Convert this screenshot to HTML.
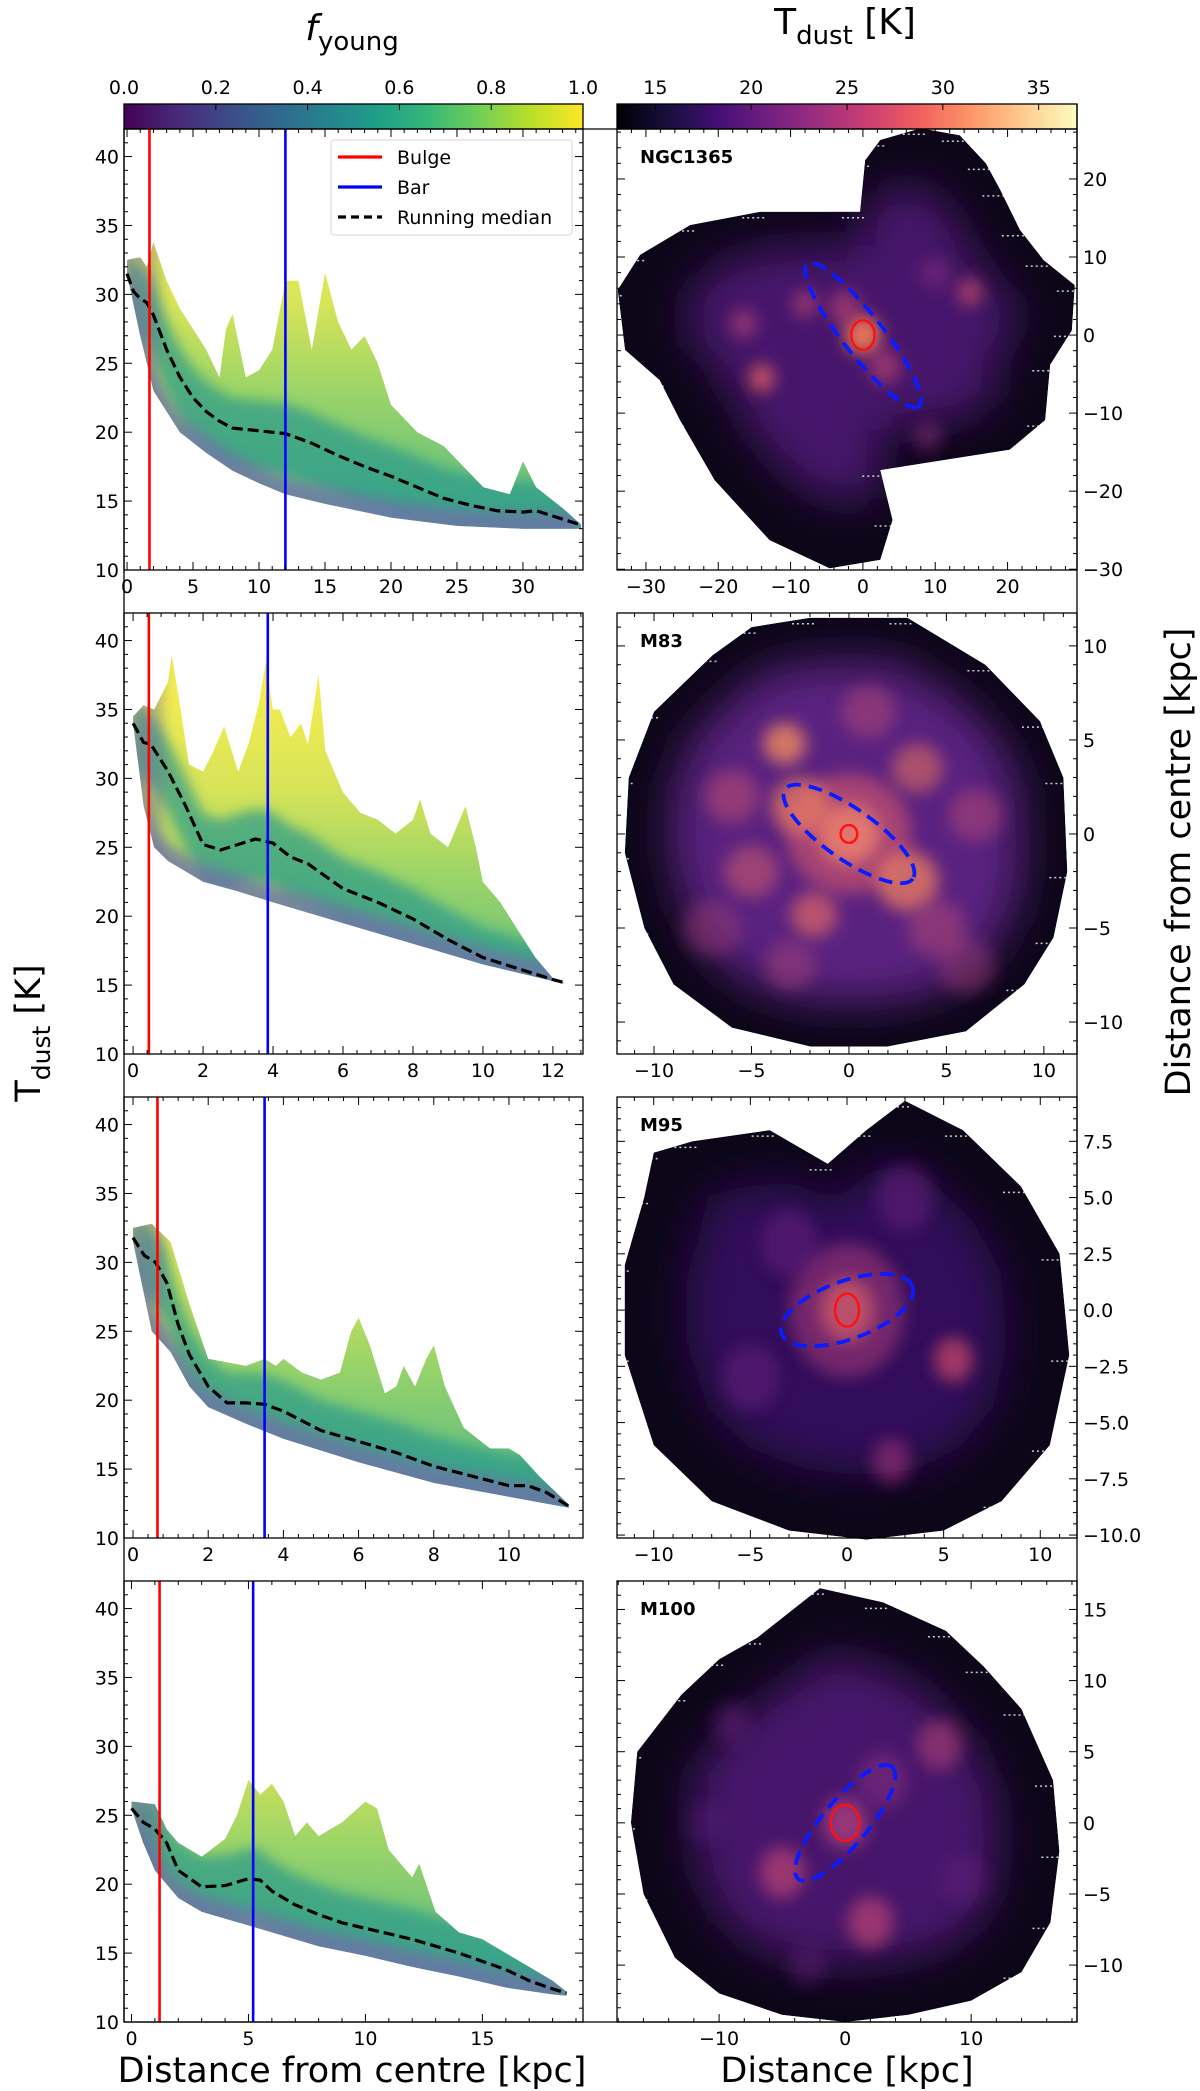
<!DOCTYPE html>
<html><head><meta charset="utf-8">
<style>
html,body{margin:0;padding:0;background:#fff;}
svg{display:block;font-family:"DejaVu Sans","Liberation Sans",sans-serif;}
</style></head>
<body>
<svg id="fig" width="1200" height="2091" viewBox="0 0 1200 2091" xmlns="http://www.w3.org/2000/svg">
<defs>
<linearGradient id="viridis" x1="0" x2="1" y1="0" y2="0">
<stop offset="0" stop-color="#440154"/><stop offset="0.11" stop-color="#482878"/><stop offset="0.22" stop-color="#3e4989"/><stop offset="0.33" stop-color="#31688e"/><stop offset="0.44" stop-color="#26828e"/><stop offset="0.55" stop-color="#1f9e89"/><stop offset="0.66" stop-color="#35b779"/><stop offset="0.77" stop-color="#6ece58"/><stop offset="0.88" stop-color="#b5de2b"/><stop offset="1" stop-color="#fde725"/>
</linearGradient>
<linearGradient id="magma" x1="0" x2="1" y1="0" y2="0">
<stop offset="0" stop-color="#000004"/><stop offset="0.11" stop-color="#180f3d"/><stop offset="0.22" stop-color="#440f76"/><stop offset="0.33" stop-color="#721f81"/><stop offset="0.44" stop-color="#9e2f7f"/><stop offset="0.55" stop-color="#cd4071"/><stop offset="0.66" stop-color="#f1605d"/><stop offset="0.77" stop-color="#fd9668"/><stop offset="0.88" stop-color="#feca8d"/><stop offset="1" stop-color="#fcfdbf"/>
</linearGradient>
<filter id="blur6" x="-30%" y="-30%" width="160%" height="160%"><feGaussianBlur stdDeviation="6"/></filter>
<filter id="blur9" x="-50%" y="-50%" width="200%" height="200%"><feGaussianBlur stdDeviation="8"/></filter>
<filter id="blur25" x="-50%" y="-50%" width="200%" height="200%"><feGaussianBlur stdDeviation="22"/></filter>
</defs>
<g id="root"></g>
</svg>
<script>
// ---------- Left-panel data (distance kpc, Tdust K) ----------
const ngcUpX=[0,1,1.5,2,3,4,5,6,7,7.5,8,9,10,11,12,13,14,15,16,17,18,19,20,22,24,25,27,29,30,31,33,34.4];
const ngcUpT=[32.5,32.7,32,33.8,31,29,27.5,26,24,27.5,28.6,24,24.5,26,31,31,26,31.6,28,26,27,25,22,20,19,18,16,15.5,17.9,16,14.5,13.3];
const ngcLoX=[0,1,2,4,6,8,10,12,15,18,20,25,30,34.4];
const ngcLoT=[31.5,27,23,20,18.5,17.2,16.3,15.5,14.8,14.2,13.8,13.2,13,13];
const ngcMedX=[0,0.5,1,1.5,2,3,4,5,6,7,8,9,10,11,12,14,16,18,20,22,24,26,28,30,31,32,34.3];
const ngcMedT=[31.5,30.2,29.7,29.4,28.5,26,24,22.5,21.5,20.8,20.3,20.2,20.1,20,19.9,19.2,18.3,17.5,16.8,16,15.2,14.7,14.3,14.2,14.3,14,13.3];
const ngcLines=[1.7,12];

const m83UpX=[0,0.3,0.6,1,1.1,1.3,1.6,2,2.3,2.6,3,3.3,3.6,3.8,4,4.2,4.5,4.8,5,5.3,5.5,6,6.5,7,7.5,8,8.2,8.5,9,9.5,9.8,10,10.5,11,11.5,12,12.3];
const m83UpT=[34.5,35.3,35,37,39,36,31,30.5,32,33.8,30.5,32.5,35.5,38.5,35,35,33,34,32.5,37.6,32,29,27.5,27,26,27,28.5,26,25,28,25,22.5,21,19,17,15.5,15.2];
const m83LoX=[0,0.3,0.6,1,2,3,4,6,8,10,12,12.3];
const m83LoT=[34,28,25,24,22.5,21.8,21,19.5,18,16.5,15.3,15.1];
const m83MedX=[0,0.3,0.5,1,1.5,2,2.5,3,3.5,4,4.5,5,6,7,8,9,10,11,12,12.3];
const m83MedT=[34,32.6,32.5,30.5,28,25.2,24.8,25.2,25.6,25.3,24.3,23.8,22,21,19.8,18.3,17,16.2,15.4,15.2];
const m83Lines=[0.45,3.85];

const m95UpX=[0,0.5,0.8,1,1.5,2,3,3.5,3.8,4,4.5,5,5.5,5.8,6,6.3,6.7,7,7.2,7.5,7.8,8,8.3,8.8,9.5,10,10.3,10.8,11.6];
const m95UpT=[32.5,32.8,32,31.5,27,23,22.5,23,22.5,23,22,21.5,22,25,26,24,20.5,21,22.5,21,23,24,21,18,16.5,16.5,16,14.5,12.4];
const m95LoX=[0,0.5,1,1.5,2,3,4,6,8,10,11.6];
const m95LoT=[31.5,25,23.5,21,19.5,18.3,17.2,15.5,14,13,12.2];
const m95MedX=[0,0.3,0.6,0.9,1.2,1.5,2,2.5,3,3.5,4,5,6,7,8,9,10,10.5,11,11.6];
const m95MedT=[31.8,30.5,30,28.5,25.5,23.3,21,19.8,19.8,19.7,19.2,17.8,17,16.2,15.2,14.5,13.8,13.8,13.3,12.3];
const m95Lines=[0.65,3.5];

const m100UpX=[0,1,1.5,2,3,4,4.5,5,5.5,6,6.5,7,7.5,8,9,10,10.5,11,12,12.3,12.6,13,14,15,16,17,18,18.6];
const m100UpT=[26,25.8,24,23,22,23.3,25,27.6,26.5,27.3,26,23.5,24.5,23.5,24.5,26,25.5,22.5,20.5,21.5,20,18,16.5,16,15,14,13,12.2];
const m100LoX=[0,0.5,1,2,3,4,6,8,10,12,14,16,18,18.6];
const m100LoT=[25.5,23,21,19,18,17.5,16.5,15.5,14.8,14,13.3,12.5,12,11.9];
const m100MedX=[0,0.5,1,1.5,2,3,4,5,5.5,6,7,8,9,10,12,14,16,17,18,18.6];
const m100MedT=[25.5,24.5,24,23,21,19.8,19.9,20.4,20.3,19.5,18.5,17.8,17.2,16.8,16,15,13.8,13,12.4,12.1];
const m100Lines=[1.2,5.2];

const leftXTicks=[[0,5,10,15,20,25,30],[0,2,4,6,8,10,12],[0,2,4,6,8,10],[0,5,10,15]];
const leftYTicks=[10,15,20,25,30,35,40];
const fyTicks=["0.0","0.2","0.4","0.6","0.8","1.0"];
const tdTicks=[15,20,25,30,35];

// ---------- Right-panel data (kpc) ----------
const ngcShapeX=[2.4,8,13.4,17,19,21.7,25,29.3,28.9,25.9,25.2,20.3,9.3,2.4,4.1,2.4,-4.6,-12.9,-20.5,-25.3,-28.1,-32.9,-33.9,-30.8,-23.9,-14.2,-0.4,0.3];
const ngcShapeY=[25,26.5,25.6,22,18.6,13.5,9.6,6.4,0.6,-3.8,-10.9,-14.7,-16.3,-17.3,-23.7,-28.8,-29.9,-26.3,-18.6,-10.9,-5.8,-1.9,5.8,10.3,14.1,15.8,15.8,22.4];
const m83ShapeX=[-2,3,7,9.8,11,11.2,10.5,9,6,2,-2,-6,-9,-10.5,-11.5,-11.3,-10,-7,-5];
const m83ShapeY=[11.5,11.5,9,6,3,-2,-5.5,-8,-10.5,-11.3,-11.3,-10.3,-8,-5,-1,3,6.5,9.5,11];
const m95ShapeX=[-8,-4,-1,1,3,6,9,11,11.5,10.5,8,5,1,-3,-7,-10,-11.5,-11.5,-10.5,-10];
const m95ShapeY=[7.5,8,6.5,8,9.3,8,5.5,2.5,-2,-6,-8.5,-9.8,-10.2,-9.8,-8.5,-6,-2,2,5,7];
const m100ShapeX=[-7,-2,3,8,11,14,16.5,17,16.3,14,10,5,0,-5,-10,-13.5,-16,-17,-16.5,-13,-10];
const m100ShapeY=[13,16.5,15.5,13.5,11,8,3,-2,-7,-10.5,-12.5,-13.5,-14,-13.5,-12,-9.5,-5,0,5,9,11.5];

const ngcBlobs=[[0,0,2.5,"#f07a55",0.95],[-2.5,3.5,2.2,"#c84a70",0.6],[3,-4,2.2,"#c84a70",0.6],[-14,-5.5,1.8,"#e06060",0.8],[-16.5,1.5,1.8,"#c04878",0.6],[-8,4,1.8,"#c04878",0.6],[14.8,5.5,1.8,"#c84a70",0.7],[9,-13,2,"#8a3080",0.5],[10,8,2,"#8a3080",0.5]];
const m83Blobs=[[0,0,1.6,"#fba874",0.95],[0,0,3.2,"#d85a6c",0.6],[-2.5,1.5,1.5,"#f08060",0.7],[3,-2.5,1.6,"#f08060",0.75],[-3.3,4.8,1.1,"#f08a60",0.8],[3.5,3.5,1.3,"#e07060",0.6],[-5,-2,1.4,"#c85870",0.6],[-1.8,-4.3,1.2,"#e06868",0.7],[4.5,-5,1.5,"#b84c74",0.5],[-6,2,1.4,"#c05070",0.55],[1,6.5,1.4,"#b84c74",0.5],[6.5,1,1.4,"#b84c74",0.5],[-7,-5,1.5,"#a04078",0.45],[6,-7,1.5,"#a04078",0.45],[-3,-7,1.3,"#b04878",0.45]];
const m95Blobs=[[0,0,1.4,"#f07a55",0.95],[0,0,3,"#a03878",0.6],[-3,3,1.5,"#6a2080",0.5],[5.5,-2.2,1.0,"#d04a6a",0.7],[-5,-3,1.5,"#6a2080",0.5],[3,5,1.5,"#6a2080",0.5],[2.3,-6.7,1.0,"#a03080",0.6]];
const m100Blobs=[[0,0,1.8,"#b84480",0.7],[-5,-3.5,1.8,"#d04c74",0.6],[2,-7,1.8,"#d04c74",0.6],[7.5,5.5,1.8,"#b84478",0.55],[3,3,2,"#8a3080",0.5],[-9,7,1.5,"#6a2080",0.45],[-3,-10,1.5,"#6a2080",0.4],[9.5,-4,1.8,"#6a2080",0.4],[-11,0,1.5,"#5a1a78",0.4]];

// ---------- helpers ----------
const NS="http://www.w3.org/2000/svg";
const root=document.getElementById('root');
function el(tag,attrs,parent){const e=document.createElementNS(NS,tag);for(const k in attrs)e.setAttribute(k,attrs[k]);(parent||root).appendChild(e);return e;}
function txt(s,attrs,parent){const e=el('text',attrs,parent);e.textContent=s;return e;}

const rowTop=[129,613,1097,1581], H=441;
const LX=124, LW=459, RX=617, RW=460;
const leftXRange=[[-0.23,34.55],[-0.26,12.86],[-0.24,11.97],[-0.32,19.3]];
const rightXRange=[[-34.0,29.6],[-11.9,11.7],[-11.9,11.9],[-18.1,18.4]];
const rightYRange=[[-30.1,26.4],[-11.7,11.75],[-10.13,9.47],[-14.0,17.0]];
const rightXTicks=[[-30,-20,-10,0,10,20],[-10,-5,0,5,10],[-10,-5,0,5,10],[-10,0,10]];
const rightYTicks=[[-30,-20,-10,0,10,20],[-10,-5,0,5,10],[-10,-7.5,-5,-2.5,0,2.5,5,7.5],[-10,-5,0,5,10,15]];
const rightYFmt=[0,0,1,0];
const names=["NGC1365","M83","M95","M100"];
const FS=19;

const leftData=[
 [ngcUpX,ngcUpT,ngcLoX,ngcLoT,ngcMedX,ngcMedT,ngcLines],
 [m83UpX,m83UpT,m83LoX,m83LoT,m83MedX,m83MedT,m83Lines],
 [m95UpX,m95UpT,m95LoX,m95LoT,m95MedX,m95MedT,m95Lines],
 [m100UpX,m100UpT,m100LoX,m100LoT,m100MedX,m100MedT,m100Lines]];
const rightData=[[ngcShapeX,ngcShapeY,ngcBlobs],[m83ShapeX,m83ShapeY,m83Blobs],[m95ShapeX,m95ShapeY,m95Blobs],[m100ShapeX,m100ShapeY,m100Blobs]];
const barA=[12.5,4.0,3.6,5.8], barB=[2.8,1.3,1.5,1.8], barAng=[52,35,-20,-50];
const bulgeRx=[1.7,0.45,0.65,1.2], bulgeRy=[1.8,0.45,0.7,1.2];

function fmt(v,d){let s=v.toFixed(d);return s.replace('-','\u2212');}

const t1=txt('',{x:352,y:40,'font-size':36,'text-anchor':'middle'});

t1.innerHTML='<tspan font-style="italic">f</tspan><tspan font-size="26" dy="10">young</tspan>';
const t2=txt('',{x:845,y:34,'font-size':36,'text-anchor':'middle'});

t2.innerHTML='T<tspan font-size="26" dy="10">dust</tspan><tspan dy="-10"> [K]</tspan>';

const cb1=el('g',{});
el('rect',{x:LX,y:104,width:LW,height:25,fill:'url(#viridis)',stroke:'#000','stroke-width':1.3},cb1);
fyTicks.forEach((s,i)=>{const x=LX+LW*i/5;el('line',{x1:x,x2:x,y1:104,y2:110,stroke:'#000','stroke-width':1},cb1);
 txt(s,{x:x,y:94,'font-size':FS,'text-anchor':'middle'},cb1);});
const cb2=el('g',{});
el('rect',{x:RX,y:104,width:RW,height:25,fill:'url(#magma)',stroke:'#000','stroke-width':1.3},cb2);
tdTicks.forEach(v=>{const x=RX+(v-13)/24*RW;el('line',{x1:x,x2:x,y1:104,y2:110,stroke:'#000','stroke-width':1},cb2);
 txt(String(v),{x:x,y:94,'font-size':FS,'text-anchor':'middle'},cb2);});

el('line',{x1:LX+LW,x2:RX,y1:129,y2:129,stroke:'#000','stroke-width':1.3});
el('line',{x1:LX,x2:LX,y1:129,y2:2022,stroke:'#000','stroke-width':1.3});
el('line',{x1:RX+RW,x2:RX+RW,y1:104,y2:2022,stroke:'#000','stroke-width':1.3});
el('line',{x1:LX,x2:RX+RW,y1:2022,y2:2022,stroke:'#000','stroke-width':1.3});

function pathFrom(xs,ys,X,Y){return xs.map((v,i)=>(i?'L':'M')+X(v).toFixed(1)+','+Y(ys[i]).toFixed(1)).join(' ');}

leftData.forEach((d,r)=>{
 const [ux,ut,lx,lt,mx,mt,lines]=d;
 const top=rowTop[r],[x0,x1]=leftXRange[r];
 const X=v=>LX+(v-x0)/(x1-x0)*LW, Y=v=>top+H-(v-10)/32*H;
 const g=el('g',{});
 const cid='clipL'+r;
 const cp=el('clipPath',{id:cid},g);
 let band=pathFrom(ux,ut,X,Y);
 for(let i=lx.length-1;i>=0;i--)band+=' L'+X(lx[i]).toFixed(1)+','+Y(lt[i]).toFixed(1);
 band+=' Z';
 el('path',{d:band},cp);
 const gid='gradL'+r;
 const lg=el('linearGradient',{id:gid,x1:0,x2:0,y1:Y(36),y2:Y(14),gradientUnits:'userSpaceOnUse'},g);
 [[0,'#f2ec50'],[0.3,'#d8e458'],[0.6,'#9ad468'],[1,'#5cbc84']].forEach(s=>el('stop',{offset:s[0],'stop-color':s[1]},lg));
 const bg=el('g',{'clip-path':'url(#'+cid+')'},g);
 
 el('path',{d:band,fill:'url(#'+gid+')'},bg);
 let core=pathFrom(mx,mt.map(v=>v+2.2),X,Y);
 for(let i=mx.length-1;i>=0;i--)core+=' L'+X(mx[i]).toFixed(1)+','+Y(mt[i]-3).toFixed(1);
 el('path',{d:core+' Z',fill:'#2a9a8a',opacity:0.7,filter:'url(#blur6)'},bg);
 let fr=pathFrom(lx,lt.map(v=>v+1.2),X,Y);
 for(let i=lx.length-1;i>=0;i--)fr+=' L'+X(lx[i]).toFixed(1)+','+Y(lt[i]-2).toFixed(1);
 el('path',{d:fr+' Z',fill:'#7270aa',opacity:0.75,filter:'url(#blur6)'},bg);
 el('rect',{x:X(0)-20,y:top,width:X(0.7*(ux[ux.length-1])/10)-X(0)+20,height:H,fill:'#6c6aa6',opacity:0.4,filter:'url(#blur6)'},bg);
 const med=el('path',{d:pathFrom(mx,mt,X,Y),fill:'none',stroke:'#000','stroke-width':3.2,'stroke-dasharray':'11,5'},g);
 
 const bl=el('line',{x1:X(lines[0]),x2:X(lines[0]),y1:top,y2:top+H,stroke:'#ff0000','stroke-width':2.6},g);
 
 const br=el('line',{x1:X(lines[1]),x2:X(lines[1]),y1:top,y2:top+H,stroke:'#0000ff','stroke-width':2.6},g);
 
 el('rect',{x:LX,y:top,width:LW,height:H,fill:'none',stroke:'#000','stroke-width':1.3},g);
 for(let v=10;v<=42;v++){const y=Y(v),L=(v%5==0)?8:4;
  el('line',{x1:LX,x2:LX+L,y1:y,y2:y,stroke:'#000','stroke-width':1},g);
  el('line',{x1:LX+LW,x2:LX+LW-L,y1:y,y2:y,stroke:'#000','stroke-width':1},g);}
 leftYTicks.forEach(v=>{const t=txt(String(v),{x:LX-5,y:Y(v)+7,'font-size':FS,'text-anchor':'end'},g);
  });
 const xt=leftXTicks[r],step=xt[1]-xt[0],minor=step/5;
 for(let v=0;v<=x1;v+=minor){const x=X(v),mj=Math.abs(v/step-Math.round(v/step))<1e-6,L=mj?8:4;
  el('line',{x1:x,x2:x,y1:top+H,y2:top+H-L,stroke:'#000','stroke-width':1},g);
  el('line',{x1:x,x2:x,y1:top,y2:top+L,stroke:'#000','stroke-width':1},g);}
 xt.forEach(v=>{const t=txt(String(v),{x:X(v),y:top+H+23,'font-size':FS,'text-anchor':'middle'},g);
  });
});

const lgd=el('g',{});
el('rect',{x:331,y:140,width:241,height:95,rx:3,fill:'#fff',stroke:'#ddd','stroke-width':1.2},lgd);
[['Bulge','#ff0000',''],['Bar','#0000ff',''],['Running median','#000','11,5']].forEach((e,i)=>{
 const y=157+i*30;const ge=el('g',{},lgd);
 const a={x1:338,x2:382,y1:y,y2:y,stroke:e[1],'stroke-width':3.2};if(e[2])a['stroke-dasharray']='8,5';
 el('line',a,ge);txt(e[0],{x:397,y:y+7,'font-size':FS},ge);});

rightData.forEach((d,r)=>{
 const [sx,sy,blobs]=d;
 const top=rowTop[r],[x0,x1]=rightXRange[r],[y0,y1]=rightYRange[r];
 const X=v=>RX+(v-x0)/(x1-x0)*RW, Y=v=>top+H-(v-y0)/(y1-y0)*H;
 const kx=RW/(x1-x0), ky=H/(y1-y0);
 const g=el('g',{});
 const cid='clipR'+r;const cp=el('clipPath',{id:cid},g);
 const shape=pathFrom(sx,sy,X,Y)+' Z';
 el('path',{d:shape},cp);
 const img=el('g',{'clip-path':'url(#'+cid+')'},g);
 
 el('path',{d:shape,fill:'#0c0618'},img);
 const cx=X(0),cy=Y(0);
 const sc=(r==1)?0.8:0.72;
 const inner=sx.map((v,i)=>[v*sc,sy[i]*sc]);
 const dark=(r==2)?'#30105a':(r==1?'#5a2080':'#46186c');
 el('path',{d:pathFrom(inner.map(p=>p[0]),inner.map(p=>p[1]),X,Y)+' Z',fill:dark,filter:'url(#blur25)'},img);
 blobs.forEach(b=>{el('ellipse',{cx:X(b[0]),cy:Y(b[1]),rx:b[2]*kx,ry:b[2]*ky,fill:b[3],opacity:b[4],filter:'url(#blur9)'},img);});
 for(let i=0;i<sx.length;i++){const px=X(sx[i]),py=Y(sy[i]);
  el('line',{x1:px-18,x2:px+6,y1:py+6,y2:py+6,stroke:'#fff','stroke-width':1.5,'stroke-dasharray':'2,3',opacity:0.8},img);}
 const ang=barAng[r];
 const be=el('ellipse',{cx:cx,cy:cy,rx:barA[r]*kx,ry:barB[r]*kx,fill:'none',stroke:'#0a1cff','stroke-width':3.8,'stroke-dasharray':'14,8',transform:`rotate(${ang} ${cx} ${cy})`},g);
 
 const bc=el('ellipse',{cx:cx,cy:cy,rx:bulgeRx[r]*kx*0.95,ry:bulgeRy[r]*ky*1.05,fill:'none',stroke:'#ff1010','stroke-width':2.4},g);
 
 el('rect',{x:RX,y:top,width:RW,height:H,fill:'none',stroke:'#000','stroke-width':1.3},g);
 const nm=txt(names[r],{x:RX+23,y:top+34,'font-size':18,'font-weight':'bold'},g);
 
 const xt=rightXTicks[r],xs=xt[1]-xt[0],xm=xs/5;
 for(let v=Math.ceil(x0/xm)*xm;v<=x1;v+=xm){const x=X(v),mj=Math.abs(v/xs-Math.round(v/xs))<1e-6,L=mj?8:4;
  el('line',{x1:x,x2:x,y1:top+H,y2:top+H-L,stroke:'#000','stroke-width':1},g);
  el('line',{x1:x,x2:x,y1:top,y2:top+L,stroke:'#000','stroke-width':1},g);}
 xt.forEach(v=>{const t=txt(fmt(v,0),{x:X(v),y:top+H+23,'font-size':FS,'text-anchor':'middle'},g);
  });
 const yt=rightYTicks[r],ys=yt[1]-yt[0],ym=ys/5;
 for(let v=Math.ceil(y0/ym)*ym;v<=y1;v+=ym){const y=Y(v),mj=Math.abs(v/ys-Math.round(v/ys))<1e-6,L=mj?8:4;
  el('line',{x1:RX,x2:RX+L,y1:y,y2:y,stroke:'#000','stroke-width':1},g);
  el('line',{x1:RX+RW,x2:RX+RW-L,y1:y,y2:y,stroke:'#000','stroke-width':1},g);}
 yt.forEach(v=>{const t=txt(fmt(v,rightYFmt[r]),{x:RX+RW+6,y:Y(v)+7,'font-size':FS},g);
  });
});

const xl1=txt('Distance from centre [kpc]',{x:352,y:2082,'font-size':35,'text-anchor':'middle'});

const xl2=txt('Distance [kpc]',{x:847,y:2082,'font-size':35,'text-anchor':'middle'});

const yl=txt('',{x:0,y:0,'font-size':35,'text-anchor':'middle',transform:'translate(40,1033) rotate(-90)'});

yl.innerHTML='T<tspan font-size="25" dy="10">dust</tspan><tspan dy="-10"> [K]</tspan>';
const yr=txt('Distance from centre [kpc]',{x:0,y:0,'font-size':35,'text-anchor':'middle',transform:'translate(1190,862) rotate(-90)'});

</script>
</body></html>
